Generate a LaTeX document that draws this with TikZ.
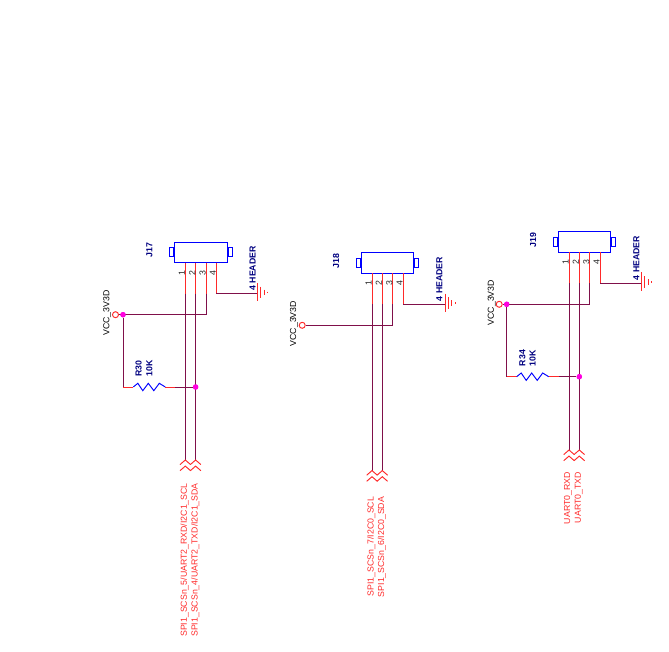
\documentclass[tikz,border=0pt]{standalone}
\usepackage{fontspec}
\setmainfont{Liberation Sans}
\usepackage{tikz}
\definecolor{wirecol}{HTML}{80104A}
\definecolor{pincol}{HTML}{FF2A2A}
\definecolor{titlecol}{HTML}{000080}
\definecolor{dotcol}{HTML}{FF00E0}

\tikzset{
  gndsym/.pic={
    \draw[pinline] (0,-10.8) -- (0,7.2);
    \draw[pinline] (3,-7) -- (3,4.5);
    \draw[pinline] (6.5,-4) -- (6.5,1.5);
    \draw[pinline] (10,-2) -- (10,-0.5);
  },
  zigzag/.pic={
    \draw[partline] (0,0) -- (4.5,-3.7) -- (9.5,3.7) -- (15,-3.7) -- (20.5,3.7) -- (26,-3.7) -- (32,0);
  },
  offpage/.pic={
    \draw[pinline] (-5.3,4.6) -- (0,0) -- (5.3,4.6);
    \draw[pinline] (-5.3,10.7) -- (0,6.1) -- (5.3,10.7);
  }
}

\begin{document}
\begin{tikzpicture}[x=1pt, y=-1pt, font=\fontsize{8.75}{10}\selectfont]
  \tikzstyle{wire}=[draw=wirecol, line width=0.95pt]
  \tikzstyle{pinline}=[draw=pincol, line width=0.95pt]
  \tikzstyle{partline}=[draw=blue, line width=0.95pt]
  \tikzstyle{hdrbox}=[rectangle, draw=blue, line width=0.95pt, fill=white, minimum width=52.7pt, minimum height=20.6pt, inner sep=0pt]
  \tikzstyle{hdrear}=[rectangle, draw=blue, line width=0.95pt, minimum width=4pt, minimum height=9pt, inner sep=0pt]
  \tikzstyle{junction}=[circle, fill=dotcol, minimum size=5.4pt, inner sep=0pt]
  \tikzstyle{vccring}=[circle, draw=pincol, line width=0.95pt, fill=white, minimum size=6pt, inner sep=0pt]
  \tikzstyle{rottext}=[rotate=90, inner sep=0pt]
  \tikzstyle{title}=[rottext, text=titlecol, font=\fontsize{8.75}{10}\selectfont\bfseries]
  \tikzstyle{pinnum}=[rottext, text=black!85]
  \tikzstyle{netname}=[rottext, text=pincol, anchor=east]

  \useasboundingbox (0,0) rectangle (669,652);

  \begin{scope}[name=hdr17, shift={(185.3,262.7)}]
    \node (j17box) at (15.4,-10.3) [hdrbox] {};
    \node (j17earl) at (j17box.west) [hdrear, anchor=east] {};
    \node (j17earr) at (j17box.east) [hdrear, anchor=west] {};
    \node (j17name) at (-36,-12.5) [title] {J17};
    \node (j17type) at (67.4,5.7) [title] {4 HEADER};
    \foreach \n/\x in {1/0, 2/10.3, 3/20.7, 4/31} {
      \coordinate (j17p\n) at (\x,0);
      \coordinate (j17b\n) at (\x,31);
      \draw[pinline] (j17p\n) -- (j17b\n);
      \node (j17num\n) at (\x-3.4,9.9) [pinnum] {\n};
    }
    \node (j17vcc) at (-69.8,52) [vccring] {};
    \node (j17jvcc) at (-62.3,52) [junction] {};
    \node (j17vcctxt) at (-78,50.3) [rottext] {VCC\_3V3D};
    \coordinate (j17t3) at (20.7,52);
    \coordinate (j17gnd) at (72.4,31);
    \coordinate (j17e1) at (0,197.3);
    \coordinate (j17e2) at (10.3,197.3);
    \coordinate (j17ra) at (-52,124.3);
    \coordinate (j17rb) at (-20,124.3);
    \coordinate (j17rc) at (-10,124.3);
    \coordinate (j17rl) at (-62.3,124.3);
    \node (j17jr) at (10.3,124.3) [junction] {};
    \draw[wire] (j17b1) -- (j17e1);
    \draw[wire] (j17b2) -- (j17e2);
    \draw[wire] (j17b3) -- (j17t3) -- (j17vcc);
    \draw[wire] (j17b4) -- (j17gnd);
    \draw[wire] (j17jvcc) -- (j17rl);
    \draw[pinline] (j17rl) -- (j17ra);
    \draw[pinline] (j17rb) -- (j17rc);
    \draw[wire] (j17rc) -- (j17jr);
    \pic (j17res) at (j17ra) {zigzag};
    \pic (j17earth) at (j17gnd) {gndsym};
    \pic (j17o1) at (j17e1) {offpage};
    \pic (j17o2) at (j17e2) {offpage};
    \node (j17rname) at (-46.6,106) [title] {R30};
    \node (j17rval) at (-36,106) [title] {10K};
    \node (j17net1) at (-0.7,220.3) [netname] {SPI1\_SCSn\_5/UART2\_RXD/I2C1\_SCL};
    \node (j17net2) at (9.9,220.3) [netname] {SPI1\_SCSn\_4/UART2\_TXD/I2C1\_SDA};
    \node (j17jtop) at (j17jvcc) [junction] {};
    \node (j17jrtop) at (j17jr) [junction] {};
  \end{scope}

  \begin{scope}[name=hdr18, shift={(372,273.3)}]
    \node (j18box) at (15.4,-10.3) [hdrbox] {};
    \node (j18earl) at (j18box.west) [hdrear, anchor=east] {};
    \node (j18earr) at (j18box.east) [hdrear, anchor=west] {};
    \node (j18name) at (-36,-12.5) [title] {J18};
    \node (j18type) at (67.4,5.7) [title] {4 HEADER};
    \foreach \n/\x in {1/0, 2/10.3, 3/20.7, 4/31} {
      \coordinate (j18p\n) at (\x,0);
      \coordinate (j18b\n) at (\x,31);
      \draw[pinline] (j18p\n) -- (j18b\n);
      \node (j18num\n) at (\x-3.4,9.9) [pinnum] {\n};
    }
    \node (j18vcc) at (-69.8,52) [vccring] {};
    \node (j18vcctxt) at (-78,50.3) [rottext] {VCC\_3V3D};
    \coordinate (j18t3) at (20.7,52);
    \coordinate (j18gnd) at (73,31);
    \coordinate (j18e1) at (0,197.3);
    \coordinate (j18e2) at (10.3,197.3);
    \draw[wire] (j18b1) -- (j18e1);
    \draw[wire] (j18b2) -- (j18e2);
    \draw[wire] (j18b3) -- (j18t3) -- (j18vcc);
    \draw[wire] (j18b4) -- (j18gnd);
    \pic (j18earth) at (j18gnd) {gndsym};
    \pic (j18o1) at (j18e1) {offpage};
    \pic (j18o2) at (j18e2) {offpage};
    \node (j18net1) at (-0.7,223.4) [netname] {SPI1\_SCSn\_7/I2C0\_SCL};
    \node (j18net2) at (9.9,223.4) [netname] {SPI1\_SCSn\_6/I2C0\_SDA};
  \end{scope}

  \begin{scope}[name=hdr19, shift={(569,252.3)}]
    \node (j19box) at (15.4,-10.3) [hdrbox] {};
    \node (j19earl) at (j19box.west) [hdrear, anchor=east] {};
    \node (j19earr) at (j19box.east) [hdrear, anchor=west] {};
    \node (j19name) at (-36,-12.5) [title] {J19};
    \node (j19type) at (67.4,5.7) [title] {4 HEADER};
    \foreach \n/\x in {1/0, 2/10.3, 3/20.7, 4/31} {
      \coordinate (j19p\n) at (\x,0);
      \coordinate (j19b\n) at (\x,31);
      \draw[pinline] (j19p\n) -- (j19b\n);
      \node (j19num\n) at (\x-3.4,9.9) [pinnum] {\n};
    }
    \node (j19vcc) at (-69.8,52) [vccring] {};
    \node (j19jvcc) at (-62.3,52) [junction] {};
    \node (j19vcctxt) at (-77.3,50.3) [rottext] {VCC\_3V3D};
    \coordinate (j19t3) at (20.7,52);
    \coordinate (j19gnd) at (72.7,31);
    \coordinate (j19e1) at (0,197.7);
    \coordinate (j19e2) at (10.3,197.7);
    \coordinate (j19ra) at (-52.3,124.4);
    \coordinate (j19rb) at (-20,124.4);
    \coordinate (j19rc) at (-10,124.4);
    \coordinate (j19rl) at (-62.3,124.4);
    \node (j19jr) at (10.3,124.4) [junction] {};
    \draw[wire] (j19b1) -- (j19e1);
    \draw[wire] (j19b2) -- (j19e2);
    \draw[wire] (j19b3) -- (j19t3) -- (j19vcc);
    \draw[wire] (j19b4) -- (j19gnd);
    \draw[wire] (j19jvcc) -- (j19rl);
    \draw[pinline] (j19rl) -- (j19ra);
    \draw[pinline] (j19rb) -- (j19rc);
    \draw[wire] (j19rc) -- (j19jr);
    \pic (j19res) at (j19ra) {zigzag};
    \pic (j19earth) at (j19gnd) {gndsym};
    \pic (j19o1) at (j19e1) {offpage};
    \pic (j19o2) at (j19e2) {offpage};
    \node (j19rname) at (-46.7,105.7) [title] {R34};
    \node (j19rval) at (-36.3,105.7) [title] {10K};
    \node (j19net1) at (-1,219.7) [netname] {UART0\_RXD};
    \node (j19net2) at (9.6,219.7) [netname] {UART0\_TXD};
    \node (j19jtop) at (j19jvcc) [junction] {};
    \node (j19jrtop) at (j19jr) [junction] {};
  \end{scope}
\end{tikzpicture}
\end{document}
